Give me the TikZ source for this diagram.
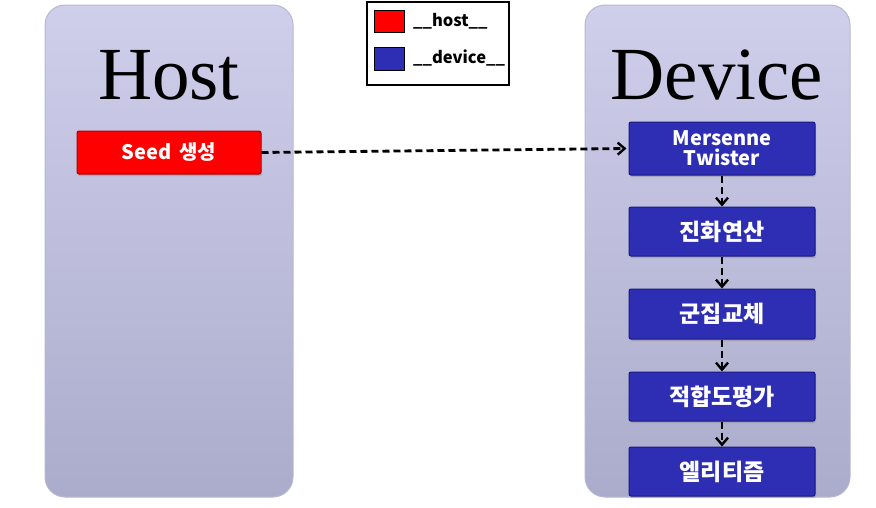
\documentclass[tikz,border=0pt]{standalone}
\usepackage{fontspec}
\setmainfont{Liberation Serif}
\newfontfamily\kr{Noto Sans CJK KR}
\usetikzlibrary{arrows.meta,shadows}
\definecolor{paneltop}{HTML}{CFCFEC}
\definecolor{panelbot}{HTML}{ABABCB}
\definecolor{panelrim}{HTML}{B8B8D4}
\definecolor{blubox}{HTML}{2E2EB4}
\definecolor{bluedge}{HTML}{1A1A80}
\definecolor{redbox}{HTML}{FF0000}
\definecolor{rededge}{HTML}{B00000}
\tikzset{
  panel/.style={rounded corners=20pt, draw=panelrim, line width=1pt, top color=paneltop, bottom color=panelbot},
  title/.style={font=\fontsize{75}{80}\selectfont, anchor=base, text=black},
  procbox/.style={rectangle, rounded corners=2pt, minimum width=186pt, text=white,
     font=\kr\bfseries\fontsize{20}{22}\selectfont, align=center, inner sep=0pt,
     drop shadow={shadow xshift=1pt, shadow yshift=-2pt, opacity=0.35}},
  devbox/.style={procbox, fill=blubox, draw=bluedge, line width=1pt},
  korbox/.style={devbox, font=\kr\bfseries\fontsize{23}{26}\selectfont},
  hostbox/.style={procbox, fill=redbox, draw=rededge, line width=1pt},
  flow/.style={dash pattern=on 7pt off 4pt, line width=2.8pt, -{Straight Barb[length=7pt,width=12pt,line width=2.4pt]}},
  legtext/.style={anchor=west, font=\kr\bfseries\fontsize{16.5}{20}\selectfont, inner sep=0pt}
}
\begin{document}
\begin{tikzpicture}[x=1pt,y=-1pt]
\useasboundingbox (0,0) rectangle (876,507);
\fill[white] (0,0) rectangle (876,507);
% panels
\shade[panel] (45,5) rectangle (293,497);
\shade[panel] (585,5) rectangle (850,497);
\node[title] (hosttitle) at (169,99) {Host};
\node[title] (devtitle) at (717,99) {Device};
% legend
\draw[line width=1.5pt] (367,2) rectangle (509,85);
\node[draw=black, fill=redbox, minimum width=30pt, minimum height=22pt, inner sep=0pt, line width=0.8pt] (lh) at (389,21) {};
\node[draw=black, fill=blubox, minimum width=30pt, minimum height=23pt, inner sep=0pt, line width=0.8pt] (ld) at (389,58.5) {};
\node[legtext] (lht) at (413,21) {\_\_host\_\_};
\node[legtext] (ldt) at (413,58) {\_\_device\_\_};
% boxes
\node[hostbox, minimum width=184pt, minimum height=43pt] (seed) at (169,152.5) {Seed\hspace{3pt} 생성};
\node[devbox, minimum height=53pt] (mt) at (722,148.5) {Mersenne\\[-2pt]Twister};
\node[korbox, minimum height=49pt] (evo) at (722,231.5) {진화연산};
\node[korbox, minimum height=50pt] (rep) at (722,314) {군집교체};
\node[korbox, minimum height=49pt] (fit) at (722,396.5) {적합도평가};
\node[korbox, minimum height=49pt] (eli) at (722,471.5) {엘리티즘};
% arrows
\draw[flow] (seed.east) -- ([xshift=-2pt]mt.west);
\draw[flow] (mt.south) -- (evo.north);
\draw[flow] (evo.south) -- (rep.north);
\draw[flow] (rep.south) -- (fit.north);
\draw[flow] (fit.south) -- (eli.north);
\end{tikzpicture}
\end{document}
